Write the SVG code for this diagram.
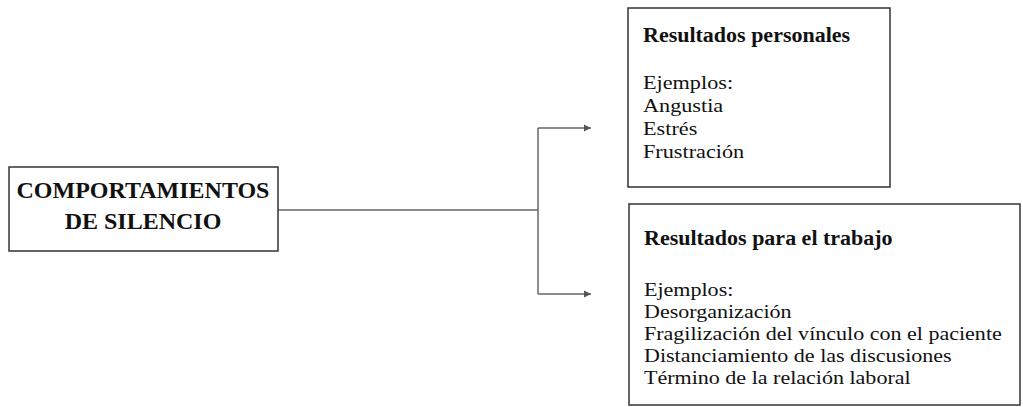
<svg xmlns="http://www.w3.org/2000/svg" width="1023" height="407" viewBox="0 0 1023 407">
<defs>
<style>
.box{fill:#fff;stroke:#333;stroke-width:1.5}
.t{font-family:"Liberation Serif","Times New Roman",serif;fill:#111}
.main{font-size:24px;font-weight:bold;text-anchor:middle}
.h{font-size:20px;font-weight:bold}
.body{font-size:19px}
.conn{fill:none;stroke:#666;stroke-width:1.5}
</style>
<marker id="arr" markerWidth="8" markerHeight="8" refX="7" refY="4" orient="auto" markerUnits="userSpaceOnUse">
<path d="M0,0.5 L7,4 L0,7.5 Z" fill="#555"/>
</marker>
</defs>
<rect width="1023" height="407" fill="#fff"/>
<g id="connectors">
<path class="conn" d="M278,210 H538"/>
<path class="conn" d="M538,128 V294"/>
<path class="conn" d="M538,128 H591" marker-end="url(#arr)"/>
<path class="conn" d="M538,294 H591" marker-end="url(#arr)"/>
</g>
<g id="node-silencio">
<rect class="box" x="9" y="167" width="269" height="84"/>
<text class="t main" x="143" y="198">COMPORTAMIENTOS</text>
<text class="t main" x="143" y="229">DE SILENCIO</text>
</g>
<g id="node-personales">
<rect class="box" x="628" y="8" width="262" height="179"/>
<g transform="translate(643,0) scale(1.1,1)">
<text class="t h" x="0" y="42">Resultados personales</text>
</g>
<g transform="translate(643,0) scale(1.17,1)">
<text class="t body" x="0" y="89">Ejemplos:</text>
<text class="t body" x="0" y="112">Angustia</text>
<text class="t body" x="0" y="135">Estrés</text>
<text class="t body" x="0" y="158">Frustración</text>
</g>
</g>
<g id="node-trabajo">
<rect class="box" x="629" y="204" width="391" height="201"/>
<g transform="translate(644,0) scale(1.1,1)">
<text class="t h" x="0" y="245">Resultados para el trabajo</text>
</g>
<g transform="translate(644,0) scale(1.16,1)">
<text class="t body" x="0" y="296">Ejemplos:</text>
<text class="t body" x="0" y="318">Desorganización</text>
<text class="t body" x="0" y="340">Fragilización del vínculo con el paciente</text>
<text class="t body" x="0" y="362">Distanciamiento de las discusiones</text>
<text class="t body" x="0" y="384">Término de la relación laboral</text>
</g>
</g>
</svg>
